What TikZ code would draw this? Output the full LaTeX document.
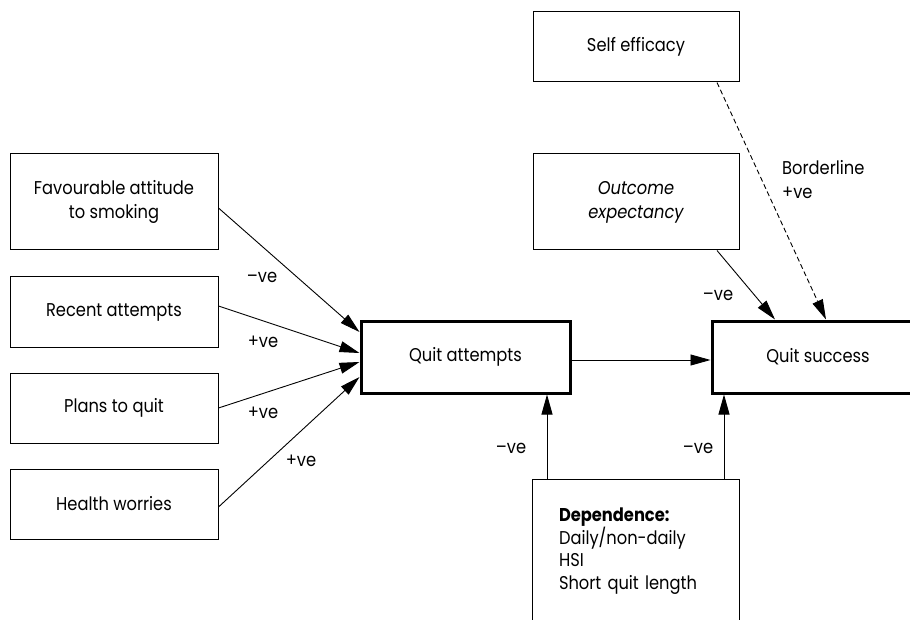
\documentclass[tikz,border=0pt]{standalone}
\usepackage{fontspec}
\setmainfont{Poppins}[FakeStretch=0.88]
\usetikzlibrary{arrows.meta}
\begin{document}
\begin{tikzpicture}[x=1pt,y=-1pt,
  txt/.style={font=\fontsize{18.5}{24}\selectfont},
  box/.style={txt, draw, line width=1pt, align=center, inner sep=0pt, minimum width=208pt},
  bigbox/.style={txt, draw, line width=3pt, align=center, inner sep=0pt, minimum width=209pt, minimum height=72pt},
  arr/.style={line width=0.9pt, -{Triangle[length=20pt,width=11pt]}},
  lbl/.style={txt, inner sep=0pt}
]
\clip (0,0) rectangle (910,620);
\fill[white] (0,0) rectangle (910,620);
% left boxes
\node[box, minimum height=96pt] (fav) at (114,202) {Favourable attitude\\to smoking};
\node[box, minimum height=70pt] (rec) at (114,312) {Recent attempts};
\node[box, minimum height=70pt] (plan) at (114,408) {Plans to quit};
\node[box, minimum height=70pt] (health) at (114,504) {Health worries};
% central boxes
\node[bigbox] (qa) at (465.5,357) {Quit attempts};
\node[bigbox, minimum width=212pt] (qs) at (818,357) {Quit success};
% top right
\node[box, minimum width=206pt, minimum height=70pt] (se) at (636,47) {Self efficacy};
\node[box, minimum width=206pt, minimum height=96pt] (oe) at (636,202) {\itshape Outcome\\\itshape expectancy};
% dependence (open at bottom)
\node[font=\fontsize{18.5}{22.5}\selectfont, anchor=north, minimum width=206pt, align=left, text width=154pt, inner xsep=26pt, inner ysep=29pt] (dep) at (636,479)
  {\textbf{Dependence:}\\Daily/non-daily\\HSI\\Short quit length};
\draw[line width=1pt] ([yshift=-40pt]dep.south west) -- (dep.north west) -- (dep.north east) -- ([yshift=-40pt]dep.south east);
% arrows to quit attempts
\draw[arr] ([yshift=-6pt]fav.east) -- ([yshift=25pt]qa.west);
\draw[arr] ([yshift=6pt]rec.east) -- ([yshift=4pt]qa.west);
\draw[arr] (plan.east) -- ([yshift=-5pt]qa.west);
\draw[arr] ([yshift=-3pt]health.east) -- ([yshift=-20pt]qa.west);
\draw[arr] ([yshift=-3pt]qa.east) -- ([yshift=-3pt]qs.west);
\draw[arr] ([xshift=81pt]oe.south) -- ([xshift=-43pt]qs.north);
\draw[arr, dashed, dash pattern=on 5pt off 3pt] ([xshift=81pt]se.south) -- ([xshift=8pt]qs.north);
\draw[arr] ([xshift=-89pt]dep.north) -- ([xshift=-89pt]dep.north |- qa.south);
\draw[arr] ([xshift=88pt]dep.north) -- ([xshift=88pt]dep.north |- qs.south);
% labels
\node[lbl] (l1) at (262,277) {--ve};
\node[lbl] (l2) at (263,342) {+ve};
\node[lbl] (l3) at (263,413) {+ve};
\node[lbl] (l4) at (301,461) {+ve};
\node[lbl] (l5) at (718,295) {--ve};
\node[lbl, anchor=west, align=left] (l6) at (782,180) {Borderline\\+ve};
\node[lbl] (l7) at (511,448) {--ve};
\node[lbl] (l8) at (698,448) {--ve};
\end{tikzpicture}
\end{document}
